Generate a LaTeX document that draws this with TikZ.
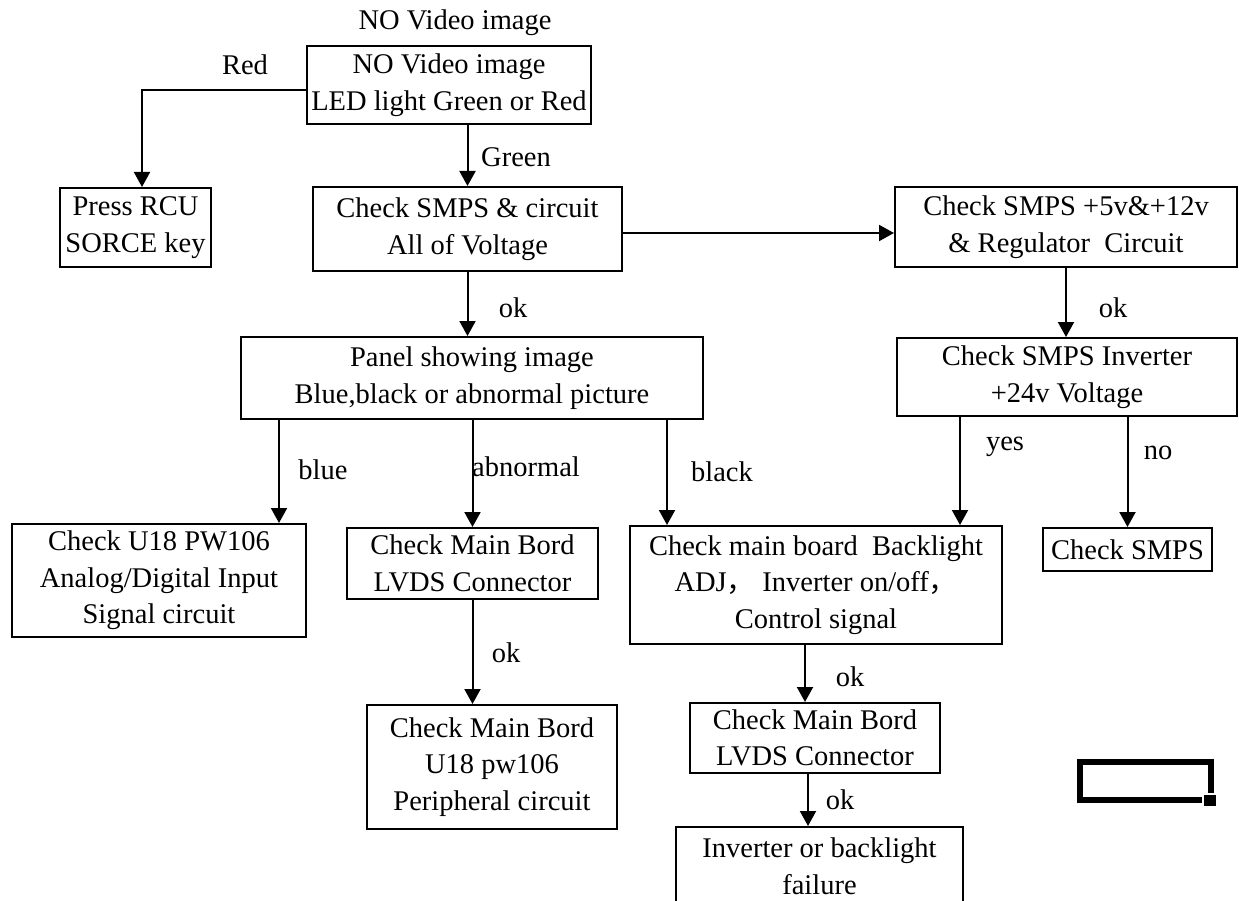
\documentclass[tikz,border=0pt]{standalone}
\usepackage{fontspec}
\setmainfont{Liberation Serif}
\newfontfamily\cjk{Noto Sans CJK SC}
\usetikzlibrary{arrows.meta}
\newcommand{\fw}{{\cjk ，}}
\begin{document}
\begin{tikzpicture}[x=1pt,y=-1pt,
  box/.style={draw, line width=2pt, align=center, inner sep=0pt,
    font={\fontsize{28.5pt}{36.5pt}\selectfont}},
  lbl/.style={inner sep=0pt, font={\fontsize{28.5pt}{36.5pt}\selectfont}},
  arr/.style={line width=2pt, -{Triangle[length=15pt,width=16pt]}}]
\useasboundingbox (0,0) rectangle (1239,901);
\clip (0,0) rectangle (1239,901);
\fill[white] (0,0) rectangle (1239,901);

% nodes
\node[lbl] (title) at (455,23) {NO Video image};
\node[box, minimum width=284pt, minimum height=78pt] (b1) at (449,85) {NO Video image\\LED light Green or Red};
\node[box, minimum width=151pt, minimum height=79pt] (press) at (135.5,227.5) {Press RCU\\SORCE key};
\node[box, minimum width=309pt, minimum height=84pt] (b2) at (467.5,229) {Check SMPS \& circuit\\All of Voltage};
\node[box, minimum width=342pt, minimum height=80pt] (b3) at (1066,227) {Check SMPS +5v\&+12v\\\& Regulator~~Circuit};
\node[box, minimum width=462pt, minimum height=82pt] (panel) at (472,378) {Panel showing image\\Blue,black or abnormal picture};
\node[box, minimum width=340pt, minimum height=78pt] (b4) at (1067,377) {Check SMPS Inverter\\+24v Voltage};
\node[box, minimum width=294pt, minimum height=113pt] (u18) at (159,580.5) {Check U18 PW106\\Analog/Digital Input\\Signal circuit};
\node[box, minimum width=251pt, minimum height=71pt] (lvdsA) at (472.5,563.5) {Check Main Bord\\LVDS Connector};
\node[box, minimum width=372pt, minimum height=118pt] (back) at (816,585) {Check main board~~Backlight\\ADJ\fw~Inverter on/off\fw\\Control signal};
\node[box, minimum width=169pt, minimum height=43pt] (smps) at (1127.5,549.5) {Check SMPS};
\node[box, minimum width=250pt, minimum height=124pt] (peri) at (492,767) {Check Main Bord\\U18 pw106\\Peripheral circuit};
\node[box, minimum width=250pt, minimum height=70pt] (lvdsB) at (815,738) {Check Main Bord\\LVDS Connector};
\node[box, minimum width=287pt, minimum height=78pt] (inv) at (819.5,866) {Inverter or backlight\\failure};

% helper coordinates
\coordinate (cRed) at ([xshift=6.5pt]press.north);
\coordinate (cBlue) at ([xshift=120pt]u18.north);
\coordinate (cBlack) at ([xshift=-149pt]back.north);
\coordinate (cYes) at ([xshift=144pt]back.north);
\coordinate (cB1) at ([xshift=-10pt]lvdsB.north);
\coordinate (cB2) at ([xshift=-7pt]lvdsB.south);

% connectors
\draw[arr] ([yshift=-5pt]b1.west) -| (cRed);
\draw[arr] (b1.south -| b2.north) -- (b2.north);
\draw[arr] ([yshift=-4pt]b2.east) -- ([yshift=-4pt]b2.east -| b3.west);
\draw[arr] (b2.south) -- (b2.south |- panel.north);
\draw[arr] (b3.south) -- (b3.south |- b4.north);
\draw[arr] (panel.south -| cBlue) -- (cBlue);
\draw[arr] (panel.south -| lvdsA.north) -- (lvdsA.north);
\draw[arr] (panel.south -| cBlack) -- (cBlack);
\draw[arr] (b4.south -| cYes) -- (cYes);
\draw[arr] (b4.south -| smps.north) -- (smps.north);
\draw[arr] (lvdsA.south) -- (lvdsA.south |- peri.north);
\draw[arr] (back.south -| cB1) -- (cB1);
\draw[arr] (cB2) -- (cB2 |- inv.north);

% labels
\node[lbl] (lRed) at (245,65) {Red};
\node[lbl] (lGreen) at (516,157) {Green};
\node[lbl] (lok1) at (513,308) {ok};
\node[lbl] (lok2) at (1113,308) {ok};
\node[lbl] (lblue) at (323,470) {blue};
\node[lbl] (labn) at (526,467) {abnormal};
\node[lbl] (lblack) at (722,472) {black};
\node[lbl] (lyes) at (1005,447) {yes};
\node[lbl] (lno) at (1158,453) {no};
\node[lbl] (lok3) at (506,653) {ok};
\node[lbl] (lok4) at (850,677) {ok};
\node[lbl] (lok5) at (840,800) {ok};

% thick open rectangle with corner square
\draw[line width=6pt] (1211,793) -- (1211,762) -- (1080,762) -- (1080,800) -- (1202,800);
\fill (1204,795) rectangle (1216,806);
\end{tikzpicture}
\end{document}
